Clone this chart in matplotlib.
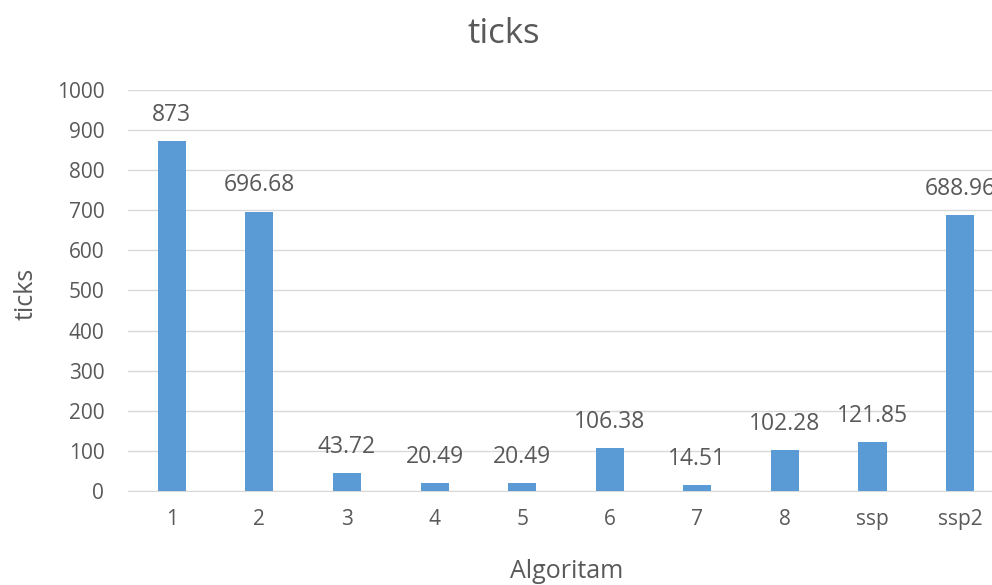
import matplotlib
matplotlib.use('Agg')
import matplotlib.pyplot as plt
import numpy as np

# data
categories = ['1', '2', '3', '4', '5', '6', '7', '8', 'ssp', 'ssp2']
ticks_vals = [873, 696.68, 43.72, 20.49, 20.49, 106.38, 14.51, 102.28, 121.85, 688.96]
value_labels = ['873', '696.68', '43.72', '20.49', '20.49', '106.38', '14.51', '102.28', '121.85', '688.96']

plt.rcParams['font.family'] = ['Open Sans', 'DejaVu Sans']
txt_col = '#595959'

fig = plt.figure(figsize=(9.92, 5.85), dpi=100)
# plot area runs off the right edge like in the screenshot
ax = fig.add_axes([0.129, 0.1607, 0.883, 0.6855])

x = np.arange(len(categories))
ax.bar(x, ticks_vals, width=0.32, color='#5B9BD5', zorder=3)

for xi, v, lab in zip(x, ticks_vals, value_labels):
    ax.annotate(lab, (xi, v), xytext=(0, 14.5), textcoords='offset points',
                ha='center', va='baseline', fontsize=16.5, color=txt_col)

ax.set_xlim(-0.5, len(categories) - 0.5)
ax.set_ylim(0, 1000)
ax.set_yticks(np.arange(0, 1001, 100))
ax.set_xticks(x)
ax.set_xticklabels(categories)
ax.tick_params(axis='both', length=0, labelsize=15, labelcolor=txt_col)
ax.tick_params(axis='y', pad=17)
ax.tick_params(axis='x', pad=13)

ax.grid(axis='y', color='#D9D9D9', linewidth=1, zorder=0)
for s in ['top', 'right', 'left']:
    ax.spines[s].set_visible(False)
ax.spines['bottom'].set_color('#D9D9D9')

# axis titles and chart title placed like the reference
fig.text(33 / 992, 1 - 294 / 585, 'ticks', rotation=90, rotation_mode='anchor',
         ha='center', va='baseline', fontsize=18, color=txt_col)
fig.text(567 / 992, 1 - 578 / 585, 'Algoritam', ha='center', va='baseline',
         fontsize=18, color=txt_col)
fig.text(503.5 / 992, 1 - 43 / 585, 'ticks', ha='center', va='baseline',
         fontsize=25, color=txt_col)

plt.savefig('out.png', dpi=100)
plt.close()
